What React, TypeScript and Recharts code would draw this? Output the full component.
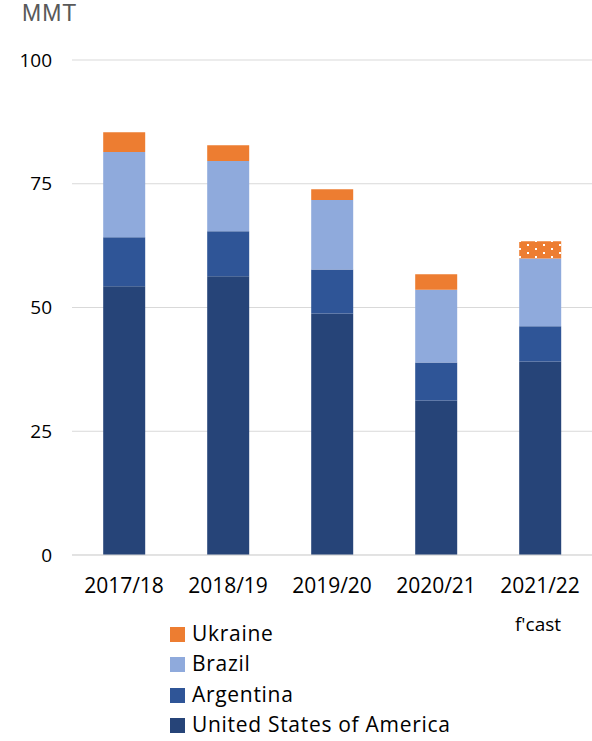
import React from 'react';
import { BarChart, Bar, XAxis, YAxis, CartesianGrid, Cell } from 'recharts';

const categories = ['2017/18', '2018/19', '2019/20', '2020/21', '2021/22'];
const subLabels = ['', '', '', '', "f'cast"];
const usa = [54.3, 56.3, 48.8, 31.2, 39.1];
const argentina = [9.9, 9.1, 8.9, 7.7, 7.1];
const brazil = [17.2, 14.2, 14.0, 14.7, 13.7];
const ukraine = [4.0, 3.2, 2.2, 3.1, 3.5];
const yTicks = [0, 25, 50, 75, 100];

const COLORS = {
  usa: '#264478',
  argentina: '#2F5597',
  brazil: '#8FAADC',
  ukraine: '#ED7D31',
};

const FONT = '"Open Sans", "Liberation Sans", sans-serif';

const data = categories.map((c, i) => ({
  name: c,
  sub: subLabels[i],
  usa: usa[i],
  argentina: argentina[i],
  brazil: brazil[i],
  ukraine: ukraine[i],
}));

// legend is listed top-down in reverse stacking order
const legendItems = [
  { label: 'Ukraine', color: COLORS.ukraine },
  { label: 'Brazil', color: COLORS.brazil },
  { label: 'Argentina', color: COLORS.argentina },
  { label: 'United States of America', color: COLORS.usa },
];

const XTick = (props: any) => {
  const { x, y, payload, index } = props;
  const sub = subLabels[index];
  return (
    <g>
      <text x={x} y={y + 38} textAnchor="middle" fill="#000" fontSize={21} fontFamily={FONT}>
        {payload.value}
      </text>
      {sub ? (
        <text x={x - 2} y={y + 76} textAnchor="middle" fill="#000" fontSize={19} fontFamily={FONT}>
          {sub}
        </text>
      ) : null}
    </g>
  );
};

export default function App() {
  return (
    <div style={{ position: 'absolute', left: 0, top: 0, width: 592, height: 741, background: '#fff', overflow: 'hidden' }}>
      <div
        style={{
          position: 'absolute',
          left: 22,
          top: 0,
          fontFamily: '"Liberation Sans", sans-serif',
          fontSize: 23,
          letterSpacing: 1,
          color: '#595959',
        }}
      >
        MMT
      </div>
      <BarChart
        width={592}
        height={741}
        data={data}
        margin={{ top: 60, right: 0, left: 0, bottom: 106 }}
        barCategoryGap="30%"
      >
        <defs>
          <pattern id="dots" x="7" y="0" width="16" height="8" patternUnits="userSpaceOnUse">
            <rect x="0" y="0" width="16" height="8" fill={COLORS.ukraine} />
            <rect x="0" y="0" width="2" height="2" fill="#fff" />
            <rect x="8" y="4" width="2" height="2" fill="#fff" />
          </pattern>
        </defs>
        <CartesianGrid vertical={false} stroke="#D9D9D9" strokeWidth={1} />
        <XAxis
          dataKey="name"
          height={80}
          axisLine={{ stroke: '#D9D9D9' }}
          tickLine={false}
          tickSize={0}
          tickMargin={0}
          interval={0}
          tick={<XTick />}
        />
        <YAxis
          width={72}
          domain={[0, 100]}
          ticks={yTicks}
          axisLine={false}
          tickLine={false}
          tickSize={0}
          tickMargin={20}
          tick={{ fill: '#000', fontSize: 19, fontFamily: FONT }}
        />
        <Bar dataKey="usa" stackId="a" fill={COLORS.usa} isAnimationActive={false} />
        <Bar dataKey="argentina" stackId="a" fill={COLORS.argentina} isAnimationActive={false} />
        <Bar dataKey="brazil" stackId="a" fill={COLORS.brazil} isAnimationActive={false} />
        <Bar dataKey="ukraine" stackId="a" fill={COLORS.ukraine} isAnimationActive={false}>
          {data.map((d) => (
            <Cell key={d.name} fill={d.sub ? 'url(#dots)' : COLORS.ukraine} />
          ))}
        </Bar>
      </BarChart>
      <div
        style={{
          position: 'absolute',
          left: 170,
          top: 619,
          fontFamily: FONT,
          fontSize: 21,
          letterSpacing: 0.7,
          color: '#000',
          display: 'flex',
          flexDirection: 'column',
          rowGap: 2.4,
        }}
      >
        {legendItems.map((it) => (
          <div key={it.label} style={{ display: 'flex', alignItems: 'center', whiteSpace: 'nowrap' }}>
            <span style={{ display: 'inline-block', width: 15, height: 15, background: it.color, marginRight: 7, marginTop: 3, flex: 'none' }} />
            <span>{it.label}</span>
          </div>
        ))}
      </div>
    </div>
  );
}
